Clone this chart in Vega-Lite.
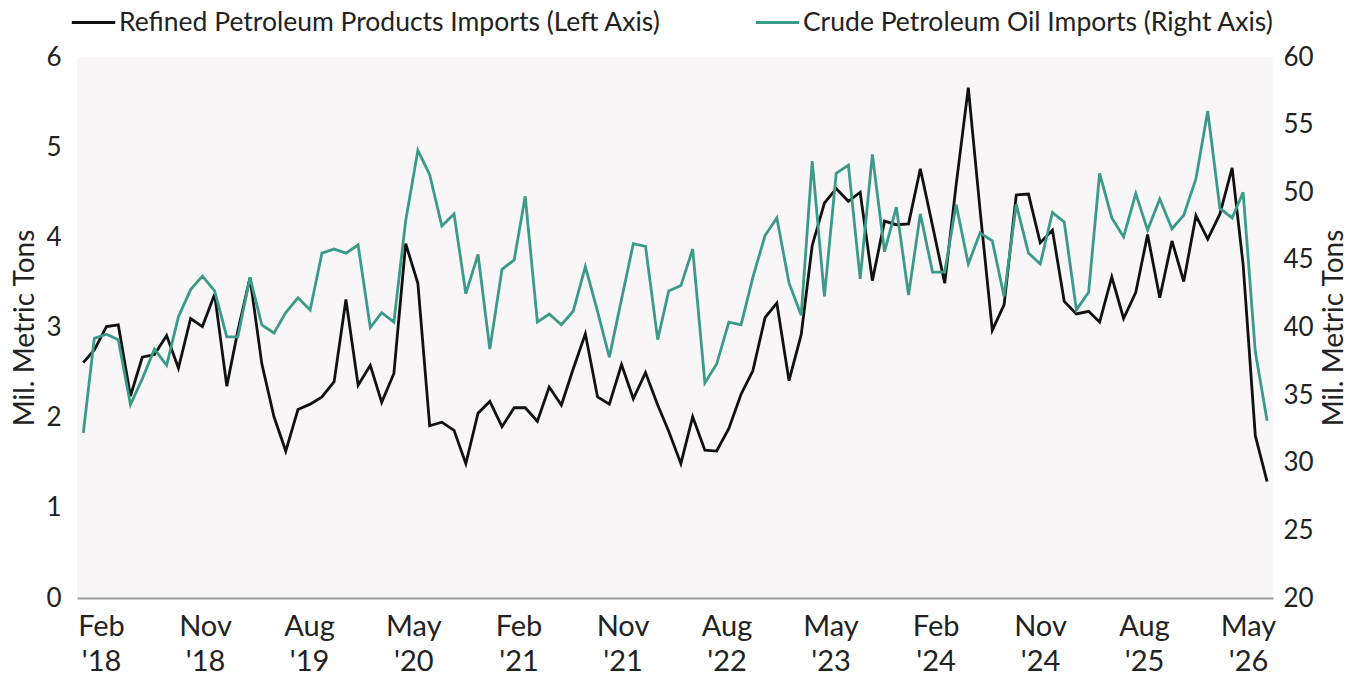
{
  "$schema": "https://vega.github.io/schema/vega-lite/v6.json",
  "width": 1196,
  "height": 541,
  "autosize": {"type": "none"},
  "padding": {"left": 77, "top": 57, "right": 79, "bottom": 78},
  "background": "white",
  "config": {
    "view": {"fill": "#f8f6f6", "stroke": null},
    "font": "Lato",
    "axis": {"labelFont": "Lato", "titleFont": "Lato", "labelColor": "#222222", "titleColor": "#222222", "grid": false, "ticks": false, "domain": false, "titleFontWeight": "normal"},
    "legend": {"labelFont": "Lato", "labelColor": "#222222"}
  },
  "data": {
    "values": [
      {"date": "2018-02-01", "refined": 2.61, "crude": 32.2},
      {"date": "2018-03-01", "refined": 2.75, "crude": 39.2},
      {"date": "2018-04-01", "refined": 3.01, "crude": 39.5},
      {"date": "2018-05-01", "refined": 3.03, "crude": 39.1},
      {"date": "2018-06-01", "refined": 2.24, "crude": 34.3},
      {"date": "2018-07-01", "refined": 2.67, "crude": 36.2},
      {"date": "2018-08-01", "refined": 2.70, "crude": 38.4},
      {"date": "2018-09-01", "refined": 2.91, "crude": 37.2},
      {"date": "2018-10-01", "refined": 2.55, "crude": 40.8},
      {"date": "2018-11-01", "refined": 3.10, "crude": 42.8},
      {"date": "2018-12-01", "refined": 3.01, "crude": 43.8},
      {"date": "2019-01-01", "refined": 3.37, "crude": 42.7},
      {"date": "2019-02-01", "refined": 2.35, "crude": 39.3},
      {"date": "2019-03-01", "refined": 2.96, "crude": 39.3},
      {"date": "2019-04-01", "refined": 3.55, "crude": 43.7},
      {"date": "2019-05-01", "refined": 2.60, "crude": 40.2},
      {"date": "2019-06-01", "refined": 2.01, "crude": 39.6},
      {"date": "2019-07-01", "refined": 1.63, "crude": 41.1},
      {"date": "2019-08-01", "refined": 2.09, "crude": 42.2},
      {"date": "2019-09-01", "refined": 2.15, "crude": 41.3},
      {"date": "2019-10-01", "refined": 2.23, "crude": 45.5},
      {"date": "2019-11-01", "refined": 2.40, "crude": 45.8},
      {"date": "2019-12-01", "refined": 3.31, "crude": 45.5},
      {"date": "2020-01-01", "refined": 2.36, "crude": 46.1},
      {"date": "2020-02-01", "refined": 2.58, "crude": 40.0},
      {"date": "2020-03-01", "refined": 2.17, "crude": 41.1},
      {"date": "2020-04-01", "refined": 2.49, "crude": 40.4},
      {"date": "2020-05-01", "refined": 3.93, "crude": 47.9},
      {"date": "2020-06-01", "refined": 3.49, "crude": 53.1},
      {"date": "2020-07-01", "refined": 1.91, "crude": 51.3},
      {"date": "2020-08-01", "refined": 1.95, "crude": 47.5},
      {"date": "2020-09-01", "refined": 1.86, "crude": 48.4},
      {"date": "2020-10-01", "refined": 1.49, "crude": 42.5},
      {"date": "2020-11-01", "refined": 2.05, "crude": 45.4},
      {"date": "2020-12-01", "refined": 2.18, "crude": 38.4},
      {"date": "2021-01-01", "refined": 1.90, "crude": 44.3},
      {"date": "2021-02-01", "refined": 2.11, "crude": 45.0},
      {"date": "2021-03-01", "refined": 2.11, "crude": 49.7},
      {"date": "2021-04-01", "refined": 1.96, "crude": 40.4},
      {"date": "2021-05-01", "refined": 2.34, "crude": 41.0},
      {"date": "2021-06-01", "refined": 2.14, "crude": 40.2},
      {"date": "2021-07-01", "refined": 2.54, "crude": 41.2},
      {"date": "2021-08-01", "refined": 2.93, "crude": 44.5},
      {"date": "2021-09-01", "refined": 2.23, "crude": 41.2},
      {"date": "2021-10-01", "refined": 2.15, "crude": 37.8},
      {"date": "2021-11-01", "refined": 2.59, "crude": 42.1},
      {"date": "2021-12-01", "refined": 2.21, "crude": 46.2},
      {"date": "2022-01-01", "refined": 2.50, "crude": 46.0},
      {"date": "2022-02-01", "refined": 2.14, "crude": 39.1},
      {"date": "2022-03-01", "refined": 1.85, "crude": 42.7},
      {"date": "2022-04-01", "refined": 1.49, "crude": 43.1},
      {"date": "2022-05-01", "refined": 2.01, "crude": 45.8},
      {"date": "2022-06-01", "refined": 1.64, "crude": 35.9},
      {"date": "2022-07-01", "refined": 1.63, "crude": 37.3},
      {"date": "2022-08-01", "refined": 1.88, "crude": 40.4},
      {"date": "2022-09-01", "refined": 2.26, "crude": 40.2},
      {"date": "2022-10-01", "refined": 2.52, "crude": 43.7},
      {"date": "2022-11-01", "refined": 3.11, "crude": 46.8},
      {"date": "2022-12-01", "refined": 3.27, "crude": 48.1},
      {"date": "2023-01-01", "refined": 2.41, "crude": 43.3},
      {"date": "2023-02-01", "refined": 2.92, "crude": 40.9},
      {"date": "2023-03-01", "refined": 3.91, "crude": 52.3},
      {"date": "2023-04-01", "refined": 4.38, "crude": 42.3},
      {"date": "2023-05-01", "refined": 4.54, "crude": 51.4},
      {"date": "2023-06-01", "refined": 4.40, "crude": 52.0},
      {"date": "2023-07-01", "refined": 4.50, "crude": 43.6},
      {"date": "2023-08-01", "refined": 3.52, "crude": 52.8},
      {"date": "2023-09-01", "refined": 4.18, "crude": 45.6},
      {"date": "2023-10-01", "refined": 4.14, "crude": 48.9},
      {"date": "2023-11-01", "refined": 4.15, "crude": 42.4},
      {"date": "2023-12-01", "refined": 4.76, "crude": 48.4},
      {"date": "2024-01-01", "refined": 4.13, "crude": 44.1},
      {"date": "2024-02-01", "refined": 3.49, "crude": 44.1},
      {"date": "2024-03-01", "refined": 4.58, "crude": 49.1},
      {"date": "2024-04-01", "refined": 5.66, "crude": 44.7},
      {"date": "2024-05-01", "refined": 4.30, "crude": 47.0},
      {"date": "2024-06-01", "refined": 2.97, "crude": 46.4},
      {"date": "2024-07-01", "refined": 3.25, "crude": 42.3},
      {"date": "2024-08-01", "refined": 4.47, "crude": 49.1},
      {"date": "2024-09-01", "refined": 4.48, "crude": 45.5},
      {"date": "2024-10-01", "refined": 3.94, "crude": 44.7},
      {"date": "2024-11-01", "refined": 4.08, "crude": 48.5},
      {"date": "2024-12-01", "refined": 3.29, "crude": 47.8},
      {"date": "2025-01-01", "refined": 3.15, "crude": 41.3},
      {"date": "2025-02-01", "refined": 3.18, "crude": 42.6},
      {"date": "2025-03-01", "refined": 3.06, "crude": 51.4},
      {"date": "2025-04-01", "refined": 3.56, "crude": 48.1},
      {"date": "2025-05-01", "refined": 3.10, "crude": 46.7},
      {"date": "2025-06-01", "refined": 3.39, "crude": 49.9},
      {"date": "2025-07-01", "refined": 4.03, "crude": 47.2},
      {"date": "2025-08-01", "refined": 3.33, "crude": 49.5},
      {"date": "2025-09-01", "refined": 3.96, "crude": 47.3},
      {"date": "2025-10-01", "refined": 3.51, "crude": 48.3},
      {"date": "2025-11-01", "refined": 4.24, "crude": 51.0},
      {"date": "2025-12-01", "refined": 3.98, "crude": 56.0},
      {"date": "2026-01-01", "refined": 4.26, "crude": 48.8},
      {"date": "2026-02-01", "refined": 4.77, "crude": 48.1},
      {"date": "2026-03-01", "refined": 3.70, "crude": 50.0},
      {"date": "2026-04-01", "refined": 1.80, "crude": 38.2},
      {"date": "2026-05-01", "refined": 1.29, "crude": 33.1}
    ]
  },
  "layer": [
    {
      "mark": {"type": "line", "strokeWidth": 2.8},
      "encoding": {
        "x": {"field": "date", "type": "temporal", "scale": {"type": "utc", "domain": [{"year": 2018, "month": 1, "date": 16, "utc": true}, {"year": 2026, "month": 5, "date": 16, "utc": true}]}, "axis": null},
        "y": {"field": "refined", "type": "quantitative", "scale": {"domain": [0, 6], "nice": false},
          "axis": {"orient": "left", "values": [0, 1, 2, 3, 4, 5, 6], "labelFontSize": 26, "labelPadding": 16, "title": "Mil. Metric Tons", "titleFontSize": 28, "titlePadding": 6}},
        "color": {"datum": "Refined Petroleum Products Imports (Left Axis)", "type": "nominal",
          "scale": {"domain": ["Refined Petroleum Products Imports (Left Axis)", "Crude Petroleum Oil Imports (Right Axis)"], "range": ["#111111", "#3b9a88"]},
          "legend": {"title": null, "orient": "none", "legendX": -7, "legendY": -58, "direction": "horizontal", "symbolType": "stroke", "symbolSize": 1890, "symbolStrokeWidth": 3, "labelFontSize": 26.5, "labelLimit": 1000, "labelOffset": 2, "columnPadding": 88,
            "encode": {"symbols": {"update": {"stroke": {"signal": "indexof(datum.value, 'Refined') === 0 ? '#1f325c' : '#3b9a88'"}}}}}}
      }
    },
    {
      "mark": {"type": "line", "strokeWidth": 2.8},
      "encoding": {
        "x": {"field": "date", "type": "temporal", "scale": {"type": "utc", "domain": [{"year": 2018, "month": 1, "date": 16, "utc": true}, {"year": 2026, "month": 5, "date": 16, "utc": true}]}, "axis": null},
        "y": {"field": "crude", "type": "quantitative", "scale": {"domain": [20, 60], "nice": false},
          "axis": {"orient": "right", "values": [20, 25, 30, 35, 40, 45, 50, 55, 60], "labelFontSize": 26, "labelPadding": 10, "title": "Mil. Metric Tons", "titleFontSize": 28, "titlePadding": 35, "titleAngle": 270}},
        "color": {"datum": "Crude Petroleum Oil Imports (Right Axis)", "type": "nominal"}
      }
    },
    {
      "mark": {"type": "point", "opacity": 0, "size": 1},
      "encoding": {
        "x": {"field": "date", "type": "temporal", "scale": {"type": "utc", "domain": [{"year": 2017, "month": 11, "date": 30, "utc": true}, {"year": 2026, "month": 7, "date": 5, "hours": 14, "utc": true}]},
          "axis": {"orient": "bottom", "domain": true, "domainColor": "#9c9c9c", "domainWidth": 2, "labelFontSize": 29, "labelPadding": 14, "labelLineHeight": 35,
            "values": [
              {"year": 2018, "month": 2, "date": 1, "utc": true},
              {"year": 2018, "month": 11, "date": 1, "utc": true},
              {"year": 2019, "month": 8, "date": 1, "utc": true},
              {"year": 2020, "month": 5, "date": 1, "utc": true},
              {"year": 2021, "month": 2, "date": 1, "utc": true},
              {"year": 2021, "month": 11, "date": 1, "utc": true},
              {"year": 2022, "month": 8, "date": 1, "utc": true},
              {"year": 2023, "month": 5, "date": 1, "utc": true},
              {"year": 2024, "month": 2, "date": 1, "utc": true},
              {"year": 2024, "month": 11, "date": 1, "utc": true},
              {"year": 2025, "month": 8, "date": 1, "utc": true},
              {"year": 2026, "month": 5, "date": 1, "utc": true}
            ],
            "labelExpr": "[utcFormat(datum.value, '%b'), \"'\" + utcFormat(datum.value, '%y')]",
            "title": null}}
      }
    }
  ],
  "resolve": {"scale": {"x": "independent", "y": "independent"}, "axis": {"x": "independent", "y": "independent"}}
}
